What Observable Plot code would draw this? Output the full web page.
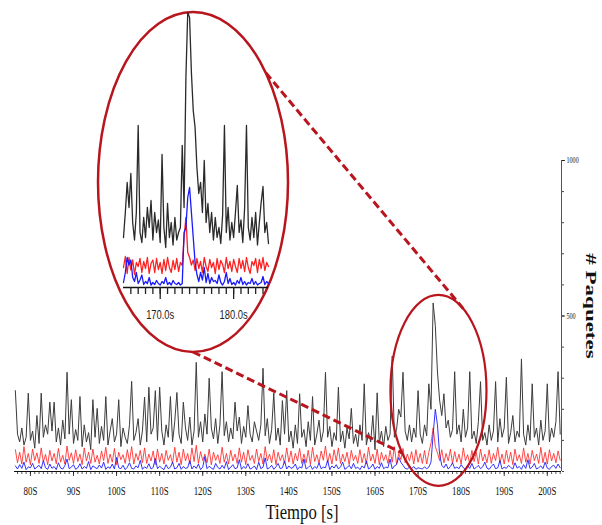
<!DOCTYPE html>
<html><head><meta charset="utf-8">
<script src="https://cdn.jsdelivr.net/npm/d3@7"></script>
<script src="https://cdn.jsdelivr.net/npm/@observablehq/plot@0.6"></script>
<style>
html,body{margin:0;padding:0;background:#fff;}
#wrap{position:relative;width:602px;height:525px;overflow:hidden;background:#fff;}
#wrap > svg{position:absolute;left:0;top:0;}
</style></head><body><div id="wrap"></div>
<script>
// ---------- main series (one value every 0.5 s, from 76.5 s) ----------
const mainStart = 76.5, mainStep = 0.5;
const blackMain = [
260,120,95,140,85,110,252,100,130,75,
180,90,252,110,150,120,223,130,223,95,
140,85,165,105,319,120,231,90,135,100,
241,80,150,95,125,70,231,110,203,90,
145,100,241,85,130,170,95,120,231,80,
140,110,90,150,290,100,125,170,85,130,
239,95,271,120,140,260,100,271,130,85,
150,110,241,95,160,254,120,90,223,140,
100,175,85,130,351,110,160,95,185,120,
300,140,105,170,90,150,321,115,160,95,
140,105,223,130,175,90,145,110,212,120,
95,160,130,100,150,332,115,170,90,135,
252,100,140,85,228,120,260,95,130,75,
150,90,250,110,135,80,160,100,241,85,
120,165,95,130,319,110,145,80,125,100,
271,95,130,75,140,105,203,90,120,80,
150,100,282,85,125,95,180,70,253,90,
130,80,145,100,120,371,110,135,200,175,
319,130,100,150,95,140,110,260,120,90,
150,115,282,200,542,470,320,230,180,250,
140,165,110,135,321,120,150,95,200,110,
140,321,105,130,90,160,289,100,125,85,
150,100,130,289,95,170,110,140,303,90,
125,180,95,130,110,362,120,85,150,100,
282,110,140,85,165,100,130,282,95,140,
110,160,321,120];
const redMain = [
70,28,62,24,80,30,58,22,72,35,
60,26,76,30,55,22,68,34,58,25,
74,30,52,24,82,36,60,26,70,32,
56,22,76,34,62,26,72,30,52,24,
66,35,78,26,56,30,74,22,62,38,
54,26,70,32,80,24,58,36,68,28,
76,26,56,34,66,22,72,30,58,24,
68,36,54,26,78,30,62,22,72,34,
58,24,76,32,84,26,64,35,56,28,
72,22,62,36,54,26,78,30,58,24,
68,34,56,26,76,30,62,22,70,36,
52,26,72,32,58,24,80,34,56,28,
70,22,62,35,54,26,76,30,66,24,
58,34,74,26,56,28,68,22,78,32,
54,26,66,36,82,28,58,24,70,34,
76,26,56,32,62,22,68,35,52,26,
70,28,58,24,78,34,56,26,72,22,
62,35,54,26,68,30,80,24,58,38,
74,28,56,34,64,24,70,30,58,26,
68,24,62,90,140,80,60,35,70,28,
58,34,72,26,64,30,56,24,76,35,
54,26,68,32,62,24,72,34,56,28,
70,26,58,35,78,28,56,24,68,30,
62,22,72,34,54,26,76,30,58,24,
68,35,56,26,78,28,62,24,70,34,
58,28,66,36];
const blueMain = [
18,8,22,10,30,6,15,12,26,8,
14,20,9,35,12,7,24,10,16,6,
28,11,8,19,40,9,14,22,7,12,
25,8,16,10,32,6,18,13,9,21,
11,30,7,15,10,24,8,45,12,9,
20,6,14,28,10,8,18,12,36,7,
15,10,25,8,13,42,9,17,11,6,
22,9,14,30,8,12,26,7,16,10,
12,35,8,18,10,24,6,14,48,9,
17,11,7,26,13,8,20,10,32,6,
14,22,9,12,38,7,16,10,25,8,
11,18,6,30,9,14,44,8,12,20,
7,15,26,9,12,34,8,18,10,13,
24,6,15,11,40,8,13,20,7,16,
10,28,9,14,12,36,6,18,11,22,
8,15,30,7,12,20,9,26,10,14,
6,18,11,34,8,13,24,7,16,10,
28,9,14,12,40,8,18,22,45,30,
20,10,8,14,9,16,7,12,10,8,
15,9,14,30,120,200,150,55,20,12,
24,8,16,28,10,14,9,22,12,7,
18,10,26,8,13,20,9,15,30,11,
7,16,24,9,12,35,8,14,10,20,
13,8,28,11,16,7,22,10,38,9,
14,26,8,12,18,9,30,11,7,16,
20,10,24,12];

// ---------- inset series (one value every 0.25 s, from 165 s) ----------
const insetStart = 165, insetStep = 0.25;
const blackInset = [
100,150,210,160,228,130,95,150,324,110,
90,140,100,160,120,174,95,150,110,135,
90,266,120,80,168,100,130,85,140,95,
110,120,284,160,420,550,540,430,354,320,
240,188,210,150,254,130,168,110,150,95,
140,100,120,88,145,324,110,160,95,130,
100,150,204,110,135,90,160,324,120,95,
140,100,150,85,130,170,202,110,130,88];
const redInset = [
40,62,28,60,35,55,26,50,42,58,
30,52,38,60,28,48,55,30,58,36,
50,28,56,34,60,40,30,54,36,58,
32,50,44,100,140,70,60,45,55,34,
58,38,52,30,60,42,32,56,40,50,
28,58,36,54,46,30,60,38,52,32,
56,42,30,58,38,54,32,60,40,28,
52,44,58,30,56,38,60,34,50,42];
const blueInset = [
10,30,60,45,55,20,12,30,8,15,
25,6,12,8,20,5,10,6,14,8,
5,12,8,20,6,10,5,14,8,6,
10,5,8,110,120,180,200,150,100,50,
26,12,30,15,40,10,28,8,20,12,
14,8,25,10,5,12,30,8,18,6,
10,5,14,8,20,6,12,5,10,8,
18,6,12,5,8,10,22,6,12,8];

// ---------- ticks & labels ----------
const xTickValues = [80,90,100,110,120,130,140,150,160,170,180,190,200];
const xTickLabels = ["80S","90S","100S","110S","120S","130S","140S","150S","160S","170S","180S","190S","200S"];
const yTickValues = [500, 1000];
const yTickLabels = ["500", "1000"];
const insetTickValues = [170, 180];
const insetTickLabels = ["170.0s", "180.0s"];
const xTitle = "Tiempo [s]";
const yTitle = "# Paquetes";

// zoomed window (data units) marked by the small ellipse
const zoomWindow = {t0: 163.7, t1: 186.0, v0: -48, v1: 566};

const mainData = blackMain.map((v, i) => ({t: mainStart + i * mainStep, black: v, red: redMain[i], blue: blueMain[i]}));
const insetData = blackInset.map((v, i) => ({t: insetStart + i * insetStep, black: v, red: redInset[i], blue: blueInset[i]}));

const RED = "#b8151d";

const main = Plot.plot({
  width: 602, height: 525,
  marginLeft: 14, marginRight: 41, marginTop: 160, marginBottom: 54,
  x: {domain: [76.3, 203.3], label: null},
  y: {domain: [0, 1000], label: null},
  style: {background: "white", fontFamily: "Liberation Serif", color: "#111"},
  marks: [
    Plot.lineY(mainData, {x: "t", y: "black", stroke: "#3c3c3c", strokeWidth: 1}),
    Plot.lineY(mainData, {x: "t", y: "red", stroke: "#ff2a2a", strokeWidth: 1, strokeOpacity: 0.85}),
    Plot.lineY(mainData, {x: "t", y: "blue", stroke: "#1c1cff", strokeWidth: 0.9}),
    Plot.ruleY([0], {stroke: "#111", strokeWidth: 1}),
    Plot.ruleX([203.3], {y1: 0, y2: 1000, stroke: "#555", strokeWidth: 1}),
    Plot.axisX({ticks: d3.range(77, 204), tickSize: 3, text: null, label: null, strokeWidth: 0.7}),
    Plot.axisX({ticks: xTickValues, tickSize: 5, tickPadding: 9, fontSize: 13, label: null, strokeWidth: 0.8,
      tickFormat: d => xTickLabels[xTickValues.indexOf(d)]}),
    Plot.axisY({anchor: "right", ticks: d3.range(0, 1001, 100), tickSize: 2, text: null, label: null, strokeWidth: 0.8}),
    Plot.axisY({anchor: "right", ticks: yTickValues, tickSize: 3, tickPadding: 2, fontSize: 9, label: null, strokeWidth: 0.8,
      tickFormat: d => yTickLabels[yTickValues.indexOf(d)]})
  ]
});

const inset = Plot.plot({
  width: 192, height: 330,
  marginLeft: 25, marginRight: 22, marginTop: 7, marginBottom: 43,
  x: {domain: [165, 184.75], label: null},
  y: {domain: [0, 560], axis: null, label: null},
  style: {background: "transparent", fontFamily: "Liberation Sans", color: "#222"},
  marks: [
    Plot.lineY(insetData, {x: "t", y: "black", stroke: "#2a2a2a", strokeWidth: 1.3}),
    Plot.lineY(insetData, {x: "t", y: "red", stroke: "#ff2020", strokeWidth: 1.3}),
    Plot.lineY(insetData, {x: "t", y: "blue", stroke: "#1a1aff", strokeWidth: 1.3}),
    Plot.ruleY([0], {stroke: "#111", strokeWidth: 1.6}),
    Plot.axisX({ticks: d3.range(166, 185), tickSize: 7, text: null, label: null, strokeWidth: 1.3}),
    Plot.axisX({ticks: insetTickValues, tickSize: 12, tickPadding: 10, fontSize: 13, label: null, strokeWidth: 1.3,
      tickFormat: d => insetTickLabels[insetTickValues.indexOf(d)]})
  ]
});

const wrap = document.getElementById("wrap");
wrap.appendChild(main);

function squeeze(svg, k) {
  svg.querySelectorAll("text").forEach(t => {
    const L = t.getComputedTextLength();
    if (L > 0) { t.setAttribute("textLength", (L * k).toFixed(2)); t.setAttribute("lengthAdjust", "spacingAndGlyphs"); }
  });
}
squeeze(main, 0.68);

// ---------- annotations ----------
const xs = main.scale("x"), ys = main.scale("y");
const sx0 = xs.apply(zoomWindow.t0), sx1 = xs.apply(zoomWindow.t1);
const sy0 = ys.apply(zoomWindow.v0), sy1 = ys.apply(zoomWindow.v1);
const small = {cx: (sx0 + sx1) / 2, cy: (sy0 + sy1) / 2, rx: Math.abs(sx1 - sx0) / 2, ry: Math.abs(sy0 - sy1) / 2};
const big = {cx: 193, cy: 182, rx: 95, ry: 170};
const onE = (e, deg) => [e.cx + e.rx * Math.cos(deg * Math.PI / 180), e.cy + e.ry * Math.sin(deg * Math.PI / 180)];
const connectors = [{big: -40, small: -59}, {big: 90, small: 139}];

const svg = d3.select(main);
const ann = svg.append("g");
ann.append("ellipse").attr("cx", small.cx).attr("cy", small.cy).attr("rx", small.rx).attr("ry", small.ry)
  .attr("fill", "none").attr("stroke", RED).attr("stroke-width", 2.2);
connectors.forEach(c => {
  const [x1, y1] = onE(big, c.big), [x2, y2] = onE(small, c.small);
  ann.append("line").attr("x1", x1).attr("y1", y1).attr("x2", x2).attr("y2", y2)
    .attr("stroke", RED).attr("stroke-width", 3).attr("stroke-dasharray", "8,4");
});
ann.append("ellipse").attr("cx", big.cx).attr("cy", big.cy).attr("rx", big.rx).attr("ry", big.ry)
  .attr("fill", "white").attr("stroke", RED).attr("stroke-width", 2.5);

// titles
ann.append("text").attr("x", 302).attr("y", 519).attr("text-anchor", "middle")
  .attr("font-family", "Liberation Serif").attr("font-size", 22).attr("fill", "#111")
  .attr("textLength", 73).attr("lengthAdjust", "spacingAndGlyphs").text(xTitle);
ann.append("text").attr("transform", "translate(586,306) rotate(90) scale(1,0.68)").attr("text-anchor", "middle")
  .attr("font-family", "Liberation Serif").attr("font-weight", "bold").attr("font-size", 23).attr("fill", "#111")
  .text(yTitle);

// inset overlay
inset.style.left = "98px";
inset.style.top = "0px";
wrap.appendChild(inset);
squeeze(inset, 0.72);
</script></body></html>
